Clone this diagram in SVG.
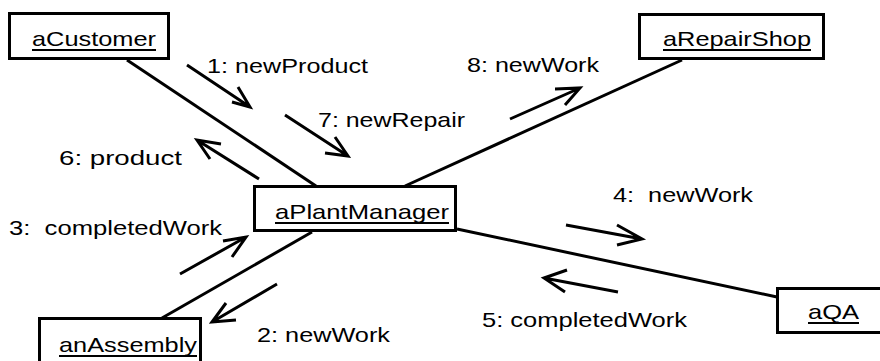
<svg xmlns="http://www.w3.org/2000/svg" width="880" height="361" viewBox="0 0 880 361">
<style>
.box{fill:#fff;stroke:#000;stroke-width:3}
.ln{stroke:#000;stroke-width:3;fill:none}
.ar{stroke:#000;stroke-width:3;fill:none;stroke-linecap:butt;stroke-linejoin:miter}
text{font-family:"Liberation Sans",Arial,Helvetica,sans-serif;font-size:21px;fill:#000;white-space:pre}
.u{stroke:#000;stroke-width:2}
</style>
<rect width="880" height="361" fill="#fff"/>
<g id="connectors">
<line class="ln" x1="127" y1="60" x2="316" y2="186"/>
<line class="ln" x1="682" y1="60" x2="405" y2="186"/>
<line class="ln" x1="312" y1="232" x2="162" y2="318"/>
<line class="ln" x1="457" y1="229" x2="777" y2="297"/>
</g>
<g id="messages">
<g id="m1"><path class="ar" d="M187 65 L250 107 M232 102 L250 107 L238 87"/><text x="207" y="73" textLength="161" lengthAdjust="spacingAndGlyphs">1: newProduct</text></g>
<g id="m7"><path class="ar" d="M285 115 L348 156 M325 153 L348 156 L335 137"/><text x="318" y="127" textLength="147" lengthAdjust="spacingAndGlyphs">7: newRepair</text></g>
<g id="m6"><path class="ar" d="M259 179 L197 140 M221 144 L197 140 L210 159"/><text x="59" y="165" textLength="123" lengthAdjust="spacingAndGlyphs">6: product</text></g>
<g id="m8"><path class="ar" d="M510 119 L580 88 M555 89 L580 88 L565 105"/><text x="467" y="72" textLength="132" lengthAdjust="spacingAndGlyphs">8: newWork</text></g>
<g id="m3"><path class="ar" d="M180 274 L246 237 M223 241 L246 237 L232 257"/><text x="9" y="235" textLength="213" lengthAdjust="spacingAndGlyphs">3:  completedWork</text></g>
<g id="m2"><path class="ar" d="M277 284 L212 322 M226 303 L212 322 L236 320"/><text x="257" y="342" textLength="133" lengthAdjust="spacingAndGlyphs">2: newWork</text></g>
<g id="m4"><path class="ar" d="M566 225 L642 239 M617 225 L642 239 L617 245"/><text x="613" y="202" textLength="140" lengthAdjust="spacingAndGlyphs">4:  newWork</text></g>
<g id="m5"><path class="ar" d="M618 292 L544 278 M567 270 L544 278 L565 292"/><text x="482" y="327" textLength="205" lengthAdjust="spacingAndGlyphs">5: completedWork</text></g>
</g>
<g id="aCustomer"><rect class="box" x="9.5" y="13.5" width="159" height="45"/><text x="32" y="46" textLength="124" lengthAdjust="spacingAndGlyphs">aCustomer</text><line class="u" x1="32" y1="50" x2="156" y2="50"/></g>
<g id="aRepairShop"><rect class="box" x="639.5" y="14.5" width="184" height="44"/><text x="663" y="46" textLength="148" lengthAdjust="spacingAndGlyphs">aRepairShop</text><line class="u" x1="663" y1="50" x2="811" y2="50"/></g>
<g id="aPlantManager"><rect class="box" x="254.5" y="186.5" width="201" height="44"/><text x="275" y="219" textLength="174" lengthAdjust="spacingAndGlyphs">aPlantManager</text><line class="u" x1="275" y1="223" x2="449" y2="223"/></g>
<g id="anAssembly"><rect class="box" x="39.5" y="318.5" width="161" height="55"/><text x="59" y="352" textLength="138" lengthAdjust="spacingAndGlyphs">anAssembly</text><line class="u" x1="59" y1="356" x2="197" y2="356"/></g>
<g id="aQA"><rect class="box" x="777.5" y="288.5" width="110" height="44"/><text x="808" y="319" textLength="51" lengthAdjust="spacingAndGlyphs">aQA</text><line class="u" x1="808" y1="323" x2="859" y2="323"/></g>
</svg>
